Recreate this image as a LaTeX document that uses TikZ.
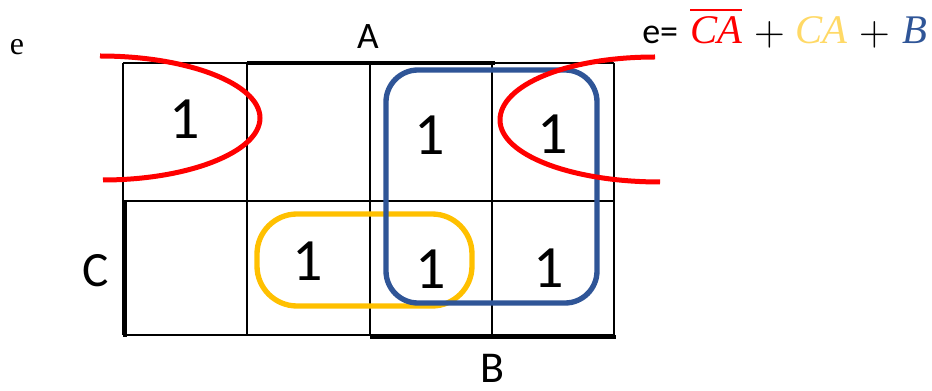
\documentclass[tikz,border=0pt]{standalone}
\usepackage{fontspec}
\newfontfamily\calibri{Carlito}
\newfontfamily\timesf{Liberation Serif}
\usetikzlibrary{positioning}
\definecolor{kred}{RGB}{255,0,0}
\definecolor{kgold}{RGB}{255,192,0}
\definecolor{klgold}{RGB}{255,217,102}
\definecolor{kblue}{RGB}{47,85,151}
\newcommand{\kbar}[1]{\setbox0=\hbox{#1}\rlap{\rule[\dimexpr\ht0+4.5pt\relax]{\wd0}{1.5pt}}\box0}
\newcommand{\kplus}{{\rmfamily\upshape\fontsize{32}{34}\selectfont\raisebox{-1.5pt}{+}}}

\begin{document}
\begin{tikzpicture}[x=0.75pt, y=-0.75pt,
    cell/.style={line width=1.5pt},
    bar/.style={line width=3pt},
    one/.style={font=\calibri\fontsize{45}{54}\selectfont, inner sep=0pt},
    lbl/.style={font=\calibri\fontsize{#1}{#1}\selectfont, inner sep=0pt},
    loop/.style={line width=4pt, rounded corners=#1}
]
\useasboundingbox (0,0) rectangle (932,391);

% map grid
\foreach \x in {123,247,370,492,614}
    \draw[cell] (\x,63) -- (\x,335);
\foreach \y in {63,201,335}
    \draw[cell] (123,\y) -- (614,\y);
\draw[bar] (247,63) -- (495,63);
\draw[bar] (125,201) -- (125,337);
\draw[bar] (370,337) -- (616,337);

% cells
\node[one] (m0) at (185,119) {1};
\node[one] (m3) at (430,135) {1};
\node[one] (m2) at (553,134) {1};
\node[one] (m5) at (308,261) {1};
\node[one] (m7) at (431,269) {1};
\node[one] (m6) at (549,268) {1};

% variables
\node[lbl=28] (varA) at (368,37) {A};
\node[lbl=37] (varC) at (96,271) {C};
\node[lbl=33] (varB) at (492,368) {B};
\node[font=\timesf\fontsize{24}{24}\selectfont, inner sep=0pt] (fname) at (17,47) {e};

% groups
\draw[kgold, loop=30pt] (257,214) rectangle (472,306);
\draw[kblue, loop=24pt] (386,70) rectangle (597,303);
\draw[kred, line width=3.75pt] (100,56) .. controls (188,56) and (260,84) .. (260,118)
    .. controls (260,152) and (188,180) .. (103,180);
\draw[kred, line width=3.75pt] (655,57) .. controls (567,57) and (500,85) .. (500,120)
    .. controls (500,155) and (572,182) .. (660,182);

% result
\node[anchor=base west, inner sep=0pt, font=\calibri\fontsize{27}{30}\selectfont] (expr) at (642,44)
    {e=\hspace{9pt}{\timesf\fontsize{30.5}{33}\selectfont
     \textcolor{kred}{\kbar{\itshape CA}}\hspace{9pt}\kplus\hspace{8pt}%
     \textcolor{klgold}{\itshape CA}\hspace{9pt}\kplus\hspace{9pt}%
     \textcolor{kblue}{\itshape B}}};
\end{tikzpicture}
\end{document}
